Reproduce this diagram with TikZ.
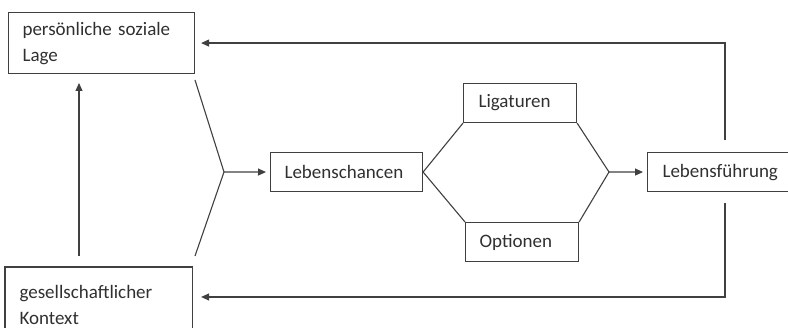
\documentclass[tikz,border=0pt]{standalone}
\usepackage{fontspec}
\setmainfont{Carlito}
\usetikzlibrary{arrows.meta,calc}
\definecolor{ln}{HTML}{404040}
\definecolor{tx}{HTML}{303030}
\begin{document}
\begin{tikzpicture}[x=1pt,y=-1pt,
  box/.style={draw=ln, line width=1.1pt, rectangle, align=left, inner xsep=14pt, inner ysep=0pt,
    anchor=north west, text=tx, font=\fontsize{19}{26}\selectfont},
  conn/.style={draw=ln, line width=1.1pt},
  arr/.style={conn, -{Triangle[length=8pt,width=7pt]}}]
\useasboundingbox (0,0) rectangle (788,328);
\clip (0,0) rectangle (788,328);
\node[box, text width=158pt, minimum height=61pt] (A) at (8,12) {persönliche soziale\\Lage};
\node[box, draw=none, text width=158pt, minimum height=75pt] (B) at (5,267) {gesellschaftlicher\\Kontext};
\draw[conn] (B.south west) -- (B.north west) -- (B.north east) -- (B.south east);
\node[box, text width=124pt, minimum height=39pt] (LC) at (270,152) {Lebenschancen};
\node[box, inner xsep=15pt, text width=83pt, minimum height=39pt] (LG) at (463,83) {Ligaturen};
\node[box, inner xsep=14pt, text width=85pt, minimum height=39pt] (OP) at (465,222) {Optionen};
\node[box, inner xsep=15pt, text width=120pt, minimum height=39pt] (LF) at (647,152) {Lebensführung};
\coordinate (a1) at (195,80);
\coordinate (b1) at (195,256);
\coordinate (j1) at (224,172);
\coordinate (j2) at (609,172);
\coordinate (v1) at (79,256);
\coordinate (v2) at (79,83);
\coordinate (t1) at (725,140);
\coordinate (t2) at (725,203);
\draw[conn] (a1) -- (j1) -- (b1);
\draw[arr, shorten >=4pt] (j1) -- (LC.west);
\draw[conn] (LG.south west) -- (LC.east) -- (OP.north west);
\draw[conn] (LG.south east) -- (j2) -- (OP.north east);
\draw[arr, shorten >=4pt] (j2) -- (LF.west);
\draw[arr] (v1) -- (v2);
\draw[arr, shorten >=6pt] (t1) |- (A.east);
\draw[arr, shorten >=9pt] (t2) |- ($(B.north east)+(0,30)$);
\end{tikzpicture}
\end{document}
